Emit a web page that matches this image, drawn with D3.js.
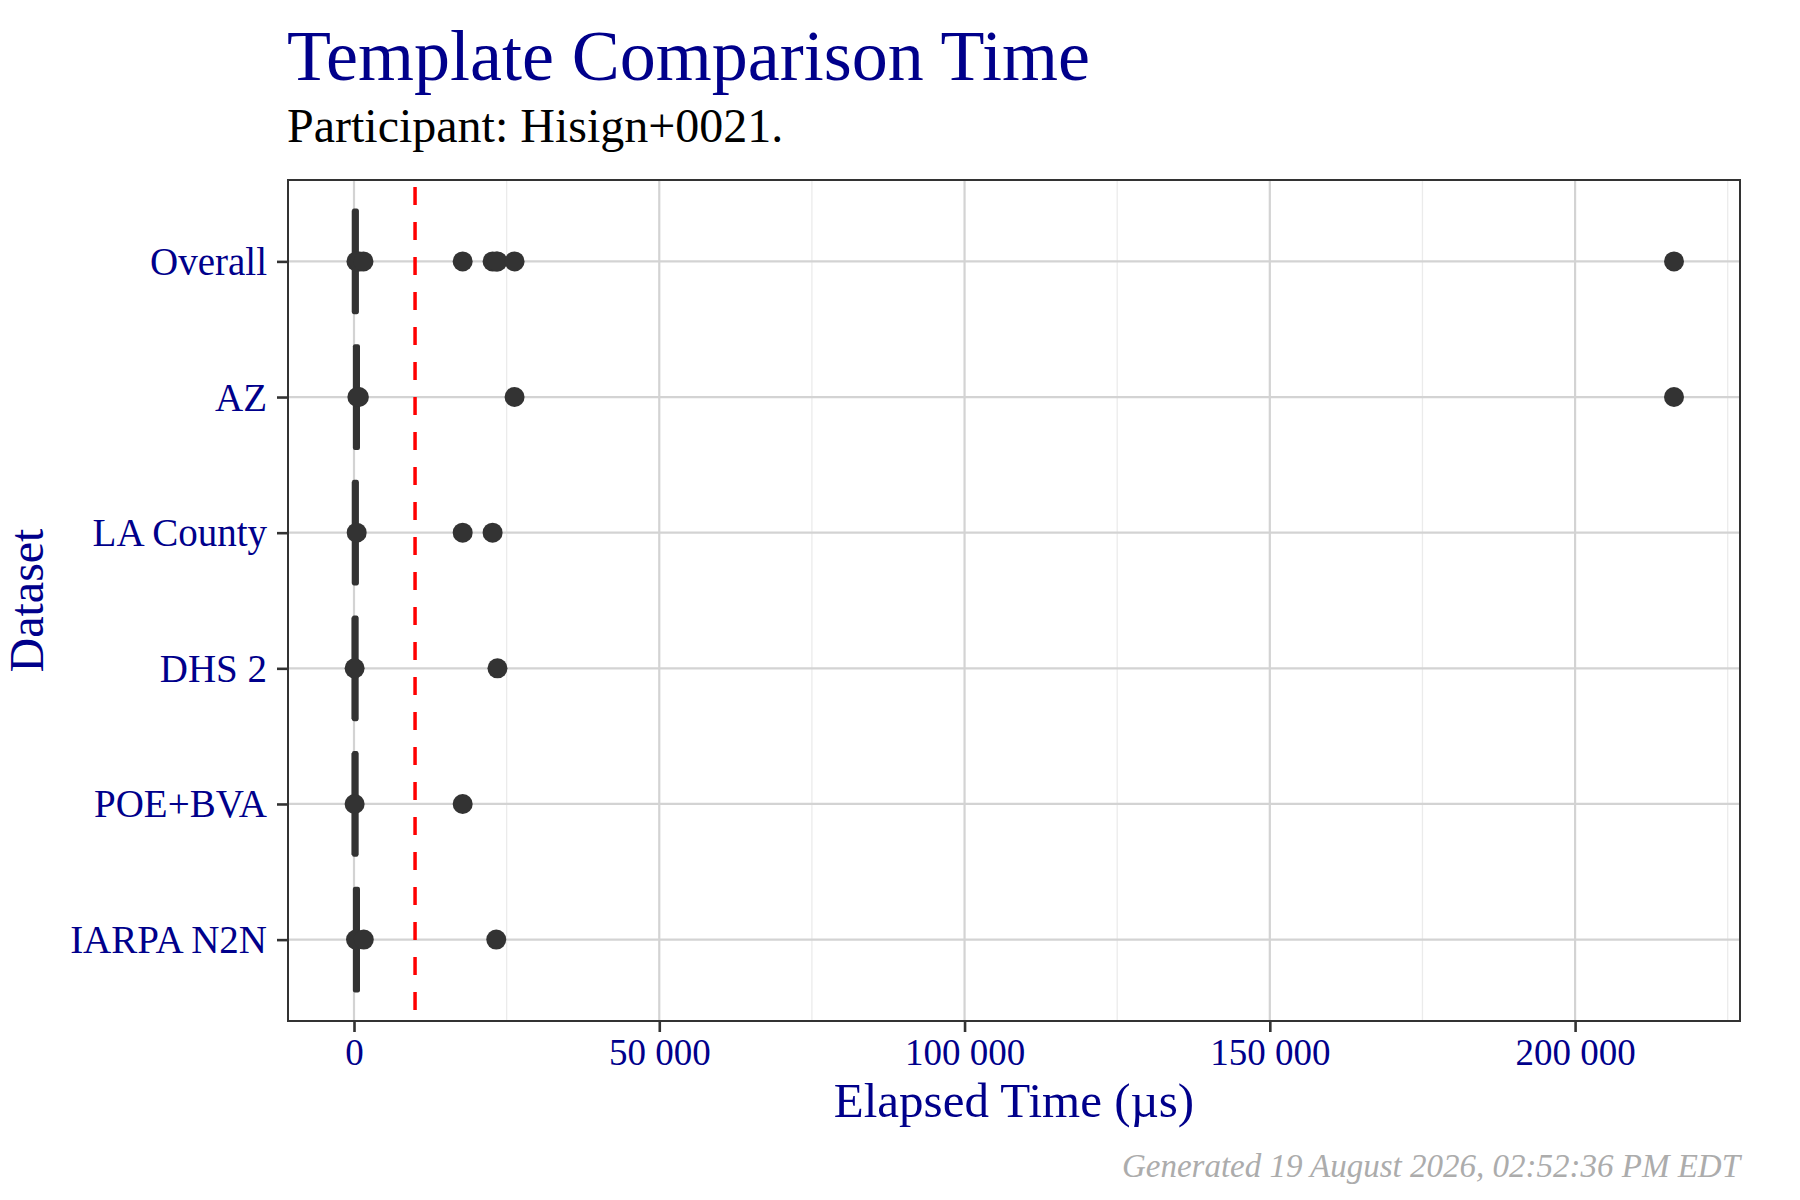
<!DOCTYPE html>
<html>
<head>
<meta charset="utf-8">
<style>
  body { margin: 0; background: #fff; }
  svg text { font-family: "Liberation Serif", "Palatino Linotype", Palatino, serif; }
  .axis path { display: none; }
  .axis line { stroke: #333333; stroke-width: 2.6; }
  .axis text { fill: #00008b; font-size: 37px; }
  .axis.y text { font-size: 39px; }
</style>
</head>
<body>
<div id="chart"></div>
<script src="https://d3js.org/d3.v7.min.js"></script>
<script>
'use strict';

var width = 1800,
    height = 1200;

// datasets, top to bottom
var datasets = ['Overall', 'AZ', 'LA County', 'DHS 2', 'POE+BVA', 'IARPA N2N'];

// box statistics (µs)
var q1 = [0, 150, 0, 0, 0, 150];
var median = [200, 400, 200, 150, 150, 400];
var q3 = [450, 650, 450, 400, 400, 650];
var whiskerLo = [0, 100, 0, 0, 0, 100];
var whiskerHi = [800, 900, 800, 600, 600, 900];

// outliers per dataset (µs)
var outliers = [
  [400, 900, 1550, 17800, 22700, 23300, 23500, 26300, 216200],
  [550, 800, 26300, 216200],
  [440, 17800, 22700],
  [100, 23500],
  [100, 17800],
  [330, 1600, 23300]
];

var threshold = 10000;

var xTicks = [0, 50000, 100000, 150000, 200000];
var xTickLabels = ['0', '50 000', '100 000', '150 000', '200 000'];
var xMinor = [25000, 75000, 125000, 175000, 225000];

var margin = { left: 288, right: 60, top: 180, bottom: 179 };
var pw = width - margin.left - margin.right,
    ph = height - margin.top - margin.bottom;

var svg = d3.select('#chart').append('svg')
    .attr('width', width).attr('height', height);

// ggplot-like 5% expansion of the data range
var allVals = d3.merge(outliers).concat(whiskerLo);
var lo = d3.min(allVals), hi = d3.max(allVals), pad = (hi - lo) * 0.05;

var x = d3.scaleLinear().domain([lo - pad, hi + pad]).range([0, pw]);
var y = d3.scalePoint().domain(datasets).range([0, ph]).padding(0.6);
var step = y.step();

var g = svg.append('g').attr('transform', 'translate(' + margin.left + ',' + margin.top + ')');

g.append('rect').attr('width', pw).attr('height', ph).attr('fill', '#fff');

// grid
g.selectAll('line.minor').data(xMinor.filter(function(d) { return x(d) <= pw; })).enter()
  .append('line').attr('class', 'minor')
  .attr('x1', x).attr('x2', x).attr('y1', 0).attr('y2', ph)
  .attr('stroke', '#ebebeb').attr('stroke-width', 1.3);

g.selectAll('line.majorx').data(xTicks).enter()
  .append('line').attr('class', 'majorx')
  .attr('x1', x).attr('x2', x).attr('y1', 0).attr('y2', ph)
  .attr('stroke', '#d3d3d3').attr('stroke-width', 2.2);

g.selectAll('line.majory').data(datasets).enter()
  .append('line').attr('class', 'majory')
  .attr('x1', 0).attr('x2', pw).attr('y1', y).attr('y2', y)
  .attr('stroke', '#d3d3d3').attr('stroke-width', 2.2);

// boxplots
var boxes = g.selectAll('g.box').data(datasets).enter()
  .append('g').attr('class', 'box');

boxes.append('line')
  .attr('x1', function(d, i) { return x(whiskerLo[i]); })
  .attr('x2', function(d, i) { return x(whiskerHi[i]); })
  .attr('y1', y).attr('y2', y)
  .attr('stroke', '#333333').attr('stroke-width', 3);

boxes.append('rect')
  .attr('x', function(d, i) { return x(q1[i]); })
  .attr('width', function(d, i) { return Math.max(0.5, x(q3[i]) - x(q1[i])); })
  .attr('y', function(d) { return y(d) - step * 0.375; })
  .attr('height', step * 0.75)
  .attr('fill', '#333333').attr('stroke', '#333333').attr('stroke-width', 4)
  .attr('stroke-linejoin', 'round');

boxes.append('line')
  .attr('x1', function(d, i) { return x(median[i]); })
  .attr('x2', function(d, i) { return x(median[i]); })
  .attr('y1', function(d) { return y(d) - step * 0.375; })
  .attr('y2', function(d) { return y(d) + step * 0.375; })
  .attr('stroke', '#333333').attr('stroke-width', 7);

// outlier points
datasets.forEach(function(d, i) {
  g.selectAll(null).data(outliers[i]).enter()
    .append('circle')
    .attr('cx', function(v) { return x(v); })
    .attr('cy', y(d))
    .attr('r', 10)
    .attr('fill', '#333333');
});

// threshold line
g.append('line')
  .attr('x1', x(threshold)).attr('x2', x(threshold))
  .attr('y1', 0).attr('y2', ph)
  .attr('stroke', '#ff0000').attr('stroke-width', 3.5)
  .attr('stroke-dasharray', '18 17').attr('stroke-dashoffset', 28);

// panel border
g.append('rect').attr('width', pw).attr('height', ph)
  .attr('fill', 'none').attr('stroke', '#333333').attr('stroke-width', 2);

// axes
var xAxis = d3.axisBottom(x).tickValues(xTicks)
  .tickFormat(function(d, i) { return xTickLabels[i]; })
  .tickSize(11).tickPadding(0);
var gx = g.append('g').attr('class', 'axis x').attr('transform', 'translate(0,' + ph + ')').call(xAxis);
gx.selectAll('text').attr('dy', null).attr('y', 44);

var yAxis = d3.axisLeft(y).tickSize(11).tickPadding(10);
var gy = g.append('g').attr('class', 'axis y').call(yAxis);
gy.selectAll('text').attr('dy', null).attr('y', 13);

// axis titles
svg.append('text')
  .attr('x', margin.left + pw / 2).attr('y', 1117)
  .attr('text-anchor', 'middle').attr('fill', '#00008b').attr('font-size', '49px')
  .text('Elapsed Time (µs)');

svg.append('text')
  .attr('transform', 'translate(43,' + (margin.top + ph / 2) + ') rotate(-90)')
  .attr('text-anchor', 'middle').attr('fill', '#00008b').attr('font-size', '48px')
  .text('Dataset');

// title, subtitle, caption
svg.append('text')
  .attr('x', 287).attr('y', 80)
  .attr('fill', '#00008b').attr('font-size', '72px')
  .text('Template Comparison Time');

svg.append('text')
  .attr('x', 287).attr('y', 142)
  .attr('fill', '#000').attr('font-size', '48px')
  .text('Participant: Hisign+0021.');

svg.append('text')
  .attr('x', margin.left + pw).attr('y', 1177)
  .attr('text-anchor', 'end').attr('fill', '#acacac')
  .attr('font-size', '33px').attr('font-style', 'italic')
  .text('Generated 19 August 2026, 02:52:36 PM EDT');
</script>
</body>
</html>
